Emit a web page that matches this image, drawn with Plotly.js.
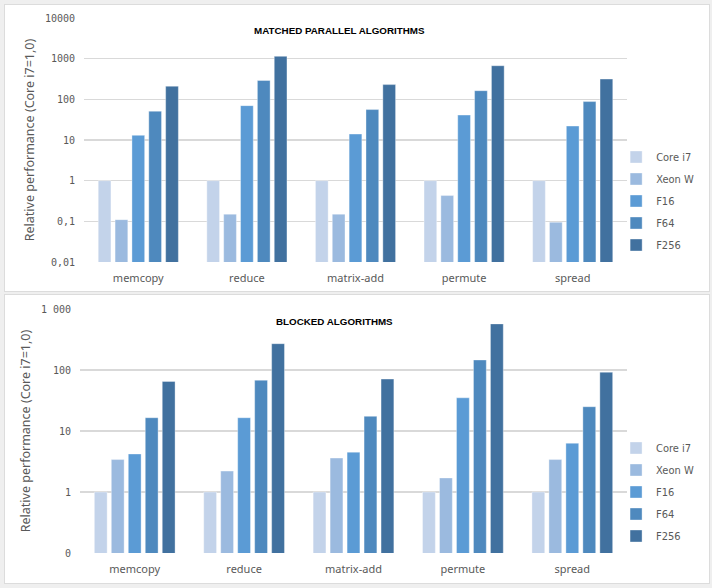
<!DOCTYPE html>
<html>
<head>
<meta charset="utf-8">
<script src="https://cdn.plot.ly/plotly-3.0.1.min.js"></script>
<style>
  body { margin: 0; background: #efefef; width: 712px; height: 588px; position: relative; overflow: hidden; }
  .panel { position: absolute; left: 5px; width: 704px; background: #fff; box-shadow: 0 0 0 1px #dcdcdc; }
  #top { top: 5px; height: 286px; }
  #bottom { top: 295px; height: 288px; }
</style>
</head>
<body>
<div id="top" class="panel"></div>
<div id="bottom" class="panel"></div>
<script>
// categories and series
var algos = ['memcopy', 'reduce', 'matrix-add', 'permute', 'spread']
var names = ['Core i7', 'Xeon W', 'F16', 'F64', 'F256']
var colors = ['#c3d3ea', '#9bbadf', '#5b9bd5', '#4e89be', '#41719f']

// matched parallel algorithms (top)
var matchedCoreI7 = [1, 1, 1, 1, 1]
var matchedXeonW = [0.11, 0.15, 0.15, 0.43, 0.095]
var matchedF16 = [13, 70, 14, 41, 22]
var matchedF64 = [51, 290, 56, 163, 88]
var matchedF256 = [210, 1140, 230, 670, 315]

// blocked algorithms (bottom)
var blockedCoreI7 = [1, 1, 1, 1, 1]
var blockedXeonW = [3.4, 2.2, 3.6, 1.7, 3.4]
var blockedF16 = [4.2, 16.5, 4.5, 35, 6.3]
var blockedF64 = [16.5, 68, 17.4, 146, 25]
var blockedF256 = [65, 270, 71, 570, 92]

// tick labels
var topTickVals = [0.01, 0.1, 1, 10, 100, 1000, 10000]
var topTickText = ['0,01', '0,1', '1', '10', '100', '1000', '10000']
var bottomTickVals = [0.1, 1, 10, 100, 1000]
var bottomTickText = ['0', '1', '10', '100', '1 000']

var yTitle = 'Relative performance (Core i7=1,0)'

function makeTraces(series){
    let traces = []
    for(let i = 0; i < series.length; i++){
        traces.push({
            type: 'bar',
            x: algos,
            y: series[i],
            name: names[i],
            legendgroup: names[i],
            marker: {
                color: colors[i],
                line: { color: 'rgba(255,255,255,0.6)', width: 0.6 }
            },
            hoverinfo: 'none'
        })
    }
    return traces
}

function makeLayout(title, titleX, range, tickvals, ticktext, margin, height){
    return {
        width: 704,
        height: height,
        margin: margin,
        paper_bgcolor: '#ffffff',
        plot_bgcolor: '#ffffff',
        barmode: 'group',
        bargap: 0.224,
        bargroupgap: 0.245,
        showlegend: true,
        legend: {
            x: 0.98,
            xanchor: 'left',
            y: 0.25,
            yanchor: 'middle',
            font: { family: 'DejaVu Sans Condensed, DejaVu Sans', size: 11, color: '#595959' },
            tracegroupgap: 3,
            itemwidth: 30,
            bgcolor: 'rgba(0,0,0,0)'
        },
        xaxis: {
            showgrid: false,
            showline: false,
            ticks: '',
            ticklabelstandoff: 8,
            tickfont: { family: 'Noto Sans', size: 11, color: '#595959' },
            fixedrange: true
        },
        yaxis: {
            type: 'log',
            range: range,
            tickvals: tickvals,
            ticktext: ticktext,
            showgrid: true,
            gridcolor: '#d9d9d9',
            gridwidth: 1.3,
            zeroline: false,
            showline: false,
            ticks: '',
            ticklabelstandoff: 8,
            tickfont: { family: 'DejaVu Sans Mono', size: 10, color: '#595959' },
            title: {
                text: yTitle,
                font: { family: 'Noto Sans', size: 12.5, color: '#595959' },
                standoff: 7
            },
            fixedrange: true
        },
        annotations: [{
            text: '<b>' + title + '</b>',
            xref: 'paper', yref: 'paper',
            x: titleX, y: 0.95,
            xanchor: 'center', yanchor: 'middle',
            showarrow: false,
            font: { family: 'Liberation Sans', size: 9.8, color: '#000000' }
        }]
    }
}

var cfg = { staticPlot: true, displayModeBar: false }

Plotly.newPlot('top',
    makeTraces([matchedCoreI7, matchedXeonW, matchedF16, matchedF64, matchedF256]),
    makeLayout('MATCHED PARALLEL ALGORITHMS', 0.471, [-2, 4], topTickVals, topTickText,
        { l: 79, r: 82, t: 13, b: 29, autoexpand: false }, 286),
    cfg)

Plotly.newPlot('bottom',
    makeTraces([blockedCoreI7, blockedXeonW, blockedF16, blockedF64, blockedF256]),
    makeLayout('BLOCKED ALGORITHMS', 0.465, [-1, 3], bottomTickVals, bottomTickText,
        { l: 75, r: 82, t: 14, b: 30, autoexpand: false }, 288),
    cfg)
</script>
</body>
</html>
